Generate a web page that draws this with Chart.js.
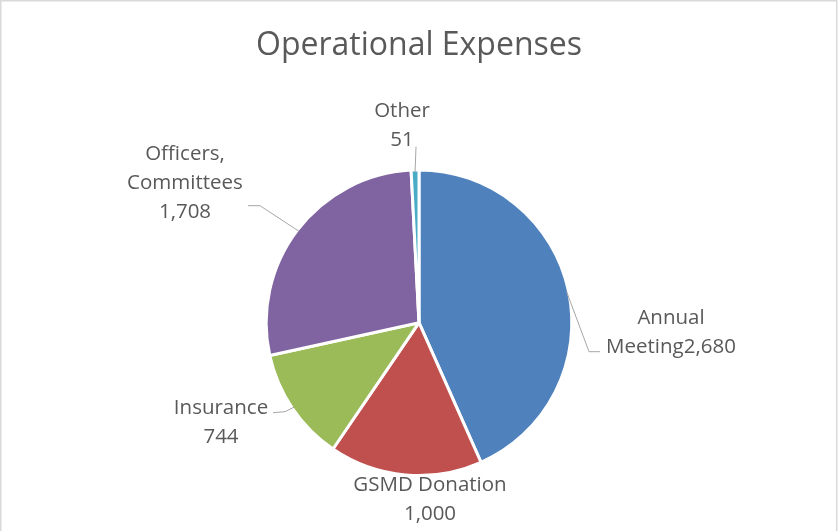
<!DOCTYPE html>
<html>
<head>
<meta charset="utf-8">
<script src="https://cdn.jsdelivr.net/npm/chart.js@4/dist/chart.umd.min.js"></script>
<style>
  html, body { margin: 0; padding: 0; background: #fff; }
  #wrap { width: 838px; height: 531px; }
</style>
</head>
<body>
<div id="wrap"><canvas id="expensesChart"></canvas></div>
<script>
// chart data
const categories = ['Annual\nMeeting', 'GSMD Donation', 'Insurance', 'Officers,\nCommittees', 'Other'];
const amounts = [2680, 1000, 744, 1708, 51];
const sliceColors = ['#4F81BD', '#C0504D', '#9BBB59', '#8064A2', '#4BACC6'];

const textColor = '#595959';

// where each data label sits, relative to the pie centre (Excel placed them by hand)
const labelLayout = [
    { dx: 252, dy: 1, sep: '', leader: [[170, 29], [181, 29]] },
    { dx: 11, dy: 168, sep: '\n', leader: null },
    { dx: -198, dy: 91, sep: '\n', leader: [[-134, 89], [-146, 90]] },
    { dx: -234, dy: -163, sep: '\n', leader: [[-159, -117], [-171, -117]] },
    { dx: -17, dy: -206, sep: '\n', leader: [[-3, -176]] }
];

const frameBorder = {
    id: 'frameBorder',
    beforeDraw(chart) {
        const c = chart.ctx;
        c.save();
        c.strokeStyle = '#D9D9D9';
        c.lineWidth = 1.5;
        c.strokeRect(0.75, 0.75, 836, 600);
        c.restore();
    }
};

const sliceLabels = {
    id: 'sliceLabels',
    afterDatasetsDraw(chart) {
        const c = chart.ctx;
        const arcs = chart.getDatasetMeta(0).data;
        c.save();
        arcs.forEach((arc, i) => {
            const lay = labelLayout[i];
            const cx = arc.x, cy = arc.y;
            if (lay.leader) {
                const mid = (arc.startAngle + arc.endAngle) / 2;
                const r = arc.outerRadius - 2;
                c.beginPath();
                c.moveTo(cx + Math.cos(mid) * r, cy + Math.sin(mid) * r);
                lay.leader.forEach(p => c.lineTo(cx + p[0], cy + p[1]));
                c.strokeStyle = '#A6A6A6';
                c.lineWidth = 1;
                c.stroke();
            }
            const text = categories[i] + lay.sep + amounts[i].toLocaleString('en-US');
            c.fillStyle = textColor;
            c.font = '20.5px "Open Sans"';
            c.textAlign = 'center';
            c.textBaseline = 'alphabetic';
            text.split('\n').forEach((line, k) => {
                c.fillText(line, cx + lay.dx, cy + lay.dy + k * 29);
            });
        });
        c.restore();
    }
};

new Chart(document.getElementById('expensesChart'), {
    type: 'pie',
    data: {
        labels: categories,
        datasets: [{
            data: amounts,
            backgroundColor: sliceColors,
            borderColor: '#ffffff',
            borderWidth: 3
        }]
    },
    options: {
        responsive: true,
        maintainAspectRatio: false,
        animation: false,
        layout: { padding: { top: 0, bottom: 54, left: 0, right: 0 } },
        plugins: {
            legend: { display: false },
            tooltip: { enabled: false },
            title: {
                display: true,
                text: 'Operational Expenses',
                color: textColor,
                font: { family: 'Open Sans', size: 32, weight: 'normal' },
                padding: { top: 27, bottom: 103 }
            }
        }
    },
    plugins: [frameBorder, sliceLabels]
});
</script>
</body>
</html>
